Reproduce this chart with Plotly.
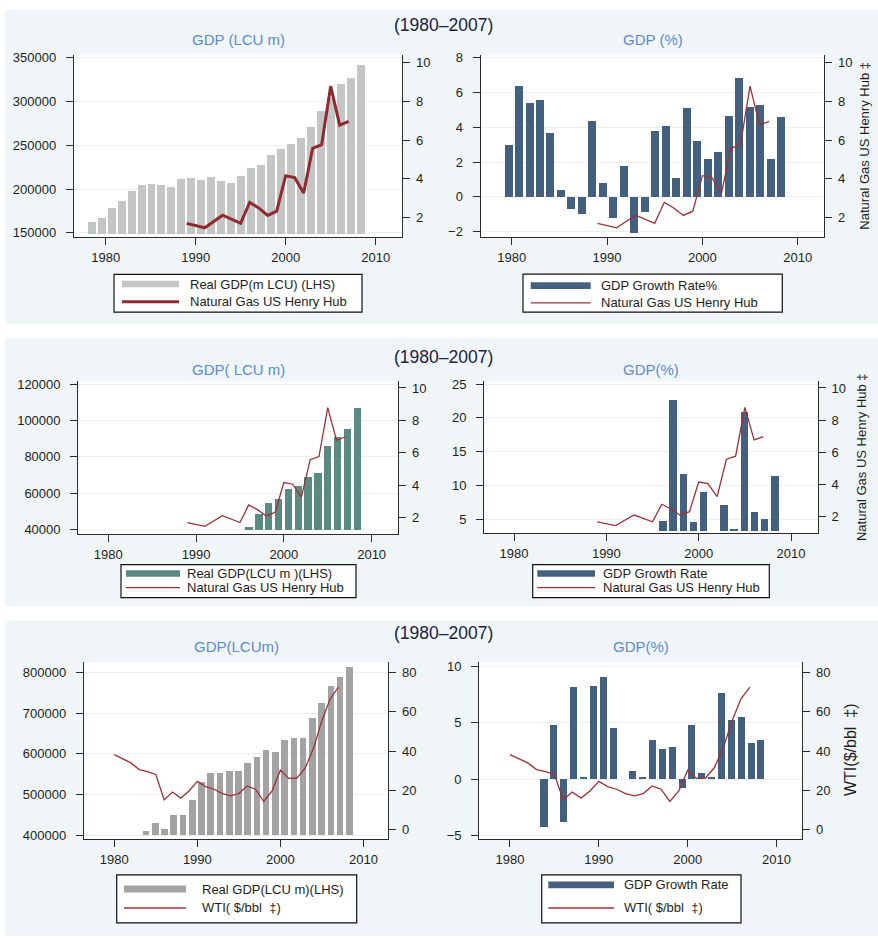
import plotly.graph_objects as go

W, H = 878, 941
FONT = "Liberation Sans, Arial, Helvetica, sans-serif"

# ---------------- data ----------------
# Natural gas, US Henry Hub ($/mmbtu)
gas_years = [1989, 1991, 1993, 1995, 1996, 1997, 1998, 1999, 2000, 2001, 2002,
             2003, 2004, 2005, 2006, 2007]
henry_hub = [1.68, 1.45, 2.10, 1.68, 2.77, 2.48, 2.09, 2.31, 4.15, 4.05, 3.25,
             5.57, 5.76, 8.79, 6.77, 6.97]

# WTI crude ($/bbl)
wti_years = list(range(1980, 2008))
wti = [38.2, 36.2, 34.0, 30.6, 29.6, 28.1, 15.2, 19.2, 16.1, 19.7, 24.6, 21.9,
       20.6, 18.4, 17.2, 18.4, 22.3, 20.6, 14.4, 19.7, 30.3, 26.1, 26.3, 31.5,
       41.5, 55.4, 66.6, 72.5]

# Country A
gdp_years_a = list(range(1981, 2009))
real_gdp_a = [162450, 167000, 178300, 187400, 198700, 205500, 206600, 204700,
              203200, 211500, 213400, 211100, 214500, 210000, 207700, 215700,
              224700, 228100, 239400, 246200, 251900, 258700, 271100, 289500,
              305000, 321000, 327800, 342500]
growth_years_a = list(range(1982, 2009))
growth_a = [3.00, 6.39, 5.40, 5.59, 3.69, 0.40, -0.68, -0.99, 4.41, 0.80,
            -1.20, 1.81, -2.07, -0.87, 3.80, 4.09, 1.12, 5.11, 3.21, 2.21,
            2.60, 4.70, 6.88, 5.19, 5.29, 2.21, 4.60]

# Country B
gdp_years_b = list(range(1997, 2009))
real_gdp_b = [41300, 48500, 54400, 56500, 62000, 63800, 68700, 70700, 85600,
              90900, 95300, 106400]
growth_b = [4.71, 22.6, 11.6, 4.46, 8.96, None, 7.10, 3.39, 20.75, 6.03, 5.0,
            11.3]

# Country C
gdp_years_c = list(range(1986, 2009))
real_gdp_c = [410500, 430700, 415400, 450100, 450100, 486500, 529300, 553500,
              553500, 558400, 558400, 577800, 592300, 610100, 604400, 634300,
              638400, 638400, 686900, 723200, 765300, 787100, 813700]
growth_c = [-4.30, 4.82, -3.86, 8.16, 0.12, 8.25, 9.04, 4.56, 0.0, 0.70, 0.18,
            3.42, 2.63, 2.81, -0.79, 4.82, 0.53, 0.18, 7.63, 5.26, 5.50, 3.16,
            3.42]

year_ticks = [1980, 1990, 2000, 2010]

# ---------------- styles ----------------
PANEL = "#f0f6f7"
AX = "#2b2b2b"
GRID = "#e9f0f1"
TXT = "#1e1e1e"
RED_THICK = "#8e2a30"
RED = "#9e3036"
NAVY = "#44607f"
GRAY_LIGHT = "#c4c5c5"
GRAY_DARK = "#a3a3a3"
TEAL = "#5a8a80"
SUB_BLUE = "#5b8ad6"
TITLE_NAVY = "#1c2244"


def fx(v):
    return v / W


def fy(v):
    return 1 - v / H


panels = [
    dict(box=(74, 50, 402.3, 234.3), main_range=[1976.48, 2012.96],
         bar_range=[1979.22, 2012.18], left_range=[145100, 353700],
         right_range=[0.97, 10.43],
         left_ticks=[150000, 200000, 250000, 300000, 350000],
         right_ticks=[2, 4, 6, 8, 10],
         bx=gdp_years_a, by=real_gdp_a, base=149400, bw=0.8, bc=GRAY_LIGHT,
         lx=gas_years, ly=henry_hub, lc=RED_THICK, lw=3.0,
         sub="GDP (LCU m)", sub_y=35,
         legend=dict(box=(114, 272, 362, 310), sw=(122, 179), rect=(278.3, 285),
                     tx=188.3, t1=281.7, t2=299.7,
                     labels=["Real GDP(m LCU) (LHS)", "Natural Gas US Henry Hub"])),
    dict(box=(480.7, 50, 824.3, 234.3), main_range=[1976.75, 2012.79],
         bar_range=[1979.37, 2012.16], left_range=[-2.32, 8.19],
         right_range=[0.97, 10.43],
         left_ticks=[-2, 0, 2, 4, 6, 8], right_ticks=[2, 4, 6, 8, 10],
         bx=growth_years_a, by=growth_a, base=0, bw=0.76, bc=NAVY,
         lx=gas_years, ly=henry_hub, lc=RED, lw=1.3,
         sub="GDP (%)", sub_y=35,
         ytitle=("Natural Gas US Henry Hub ‡", 865, 142, 13),
         legend=dict(box=(523, 271.7, 782.3, 310), sw=(530.7, 590.7),
                     rect=(280, 286.7), tx=599, t1=283.3, t2=300.7,
                     labels=["GDP Growth Rate%", "Natural Gas US Henry Hub"])),
    dict(box=(78.3, 380, 398.3, 534.3), main_range=[1976.58, 2013.04],
         bar_range=[1979.6, 2012.15], left_range=[37440, 121470],
         right_range=[0.96, 10.41],
         left_ticks=[40000, 60000, 80000, 100000, 120000],
         right_ticks=[2, 4, 6, 8, 10],
         bx=gdp_years_b, by=real_gdp_b, base=39700, bw=0.74, bc=TEAL,
         lx=gas_years, ly=henry_hub, lc=RED, lw=1.3,
         sub="GDP( LCU m)", sub_y=368,
         legend=dict(box=(121, 565, 356, 598.3), sw=(126, 180),
                     rect=(570.7, 577.3), tx=185.3, t1=574.3, t2=588.3,
                     labels=["Real GDP(LCU m )(LHS)", "Natural Gas US Henry Hub"])),
    dict(box=(484.3, 380, 817.7, 533.5), main_range=[1976.78, 2012.89],
         bar_range=[1979.36, 2012.2], left_range=[2.9, 25.4],
         right_range=[0.96, 10.41],
         left_ticks=[5, 10, 15, 20, 25], right_ticks=[2, 4, 6, 8, 10],
         bx=gdp_years_b, by=growth_b, base=3.24, bw=0.74, bc=NAVY,
         lx=gas_years, ly=henry_hub, lc=RED, lw=1.3,
         sub="GDP(%)", sub_y=368,
         ytitle=("Natural Gas US Henry Hub ‡", 861.7, 456.7, 13),
         legend=dict(box=(532.7, 565, 769.3, 598.3), sw=(537.3, 595),
                     rect=(570.7, 577.3), tx=601, t1=574.3, t2=588.3,
                     labels=["GDP Growth Rate", "Natural Gas US Henry Hub"])),
    dict(box=(84, 663.5, 388.3, 842), main_range=[1976.35, 2013.0],
         bar_range=[1979.29, 2012.22], left_range=[391000, 825000],
         right_range=[-4.67, 85.2],
         left_ticks=[400000, 500000, 600000, 700000, 800000],
         right_ticks=[0, 20, 40, 60, 80],
         bx=gdp_years_c, by=real_gdp_c, base=400500, bw=0.72, bc=GRAY_DARK,
         lx=wti_years, ly=wti, lc=RED, lw=1.3,
         sub="GDP(LCUm)", sub_y=648,
         legend=dict(box=(116.7, 878.3, 356.7, 926.7), sw=(124, 186),
                     rect=(889, 896), tx=200, t1=892.7, t2=911.7,
                     labels=["Real GDP(LCU m)(LHS)",
                             "WTI(\u00a0$/bbl\u00a0\u00a0‡)"])),
    dict(box=(479.3, 663.5, 802.3, 842), main_range=[1976.55, 2012.9],
         bar_range=[1979.41, 2012.16], left_range=[-5.32, 10.38],
         right_range=[-4.67, 85.2],
         left_ticks=[-5, 0, 5, 10], right_ticks=[0, 20, 40, 60, 80],
         bx=gdp_years_c, by=growth_c, base=0, bw=0.71, bc=NAVY,
         lx=wti_years, ly=wti, lc=RED, lw=1.3,
         sub="GDP(%)", sub_y=648,
         ytitle=("WTI($/bbl\u00a0\u00a0‡)", 850.7, 752.5, 16),
         legend=dict(box=(541.7, 878.3, 741, 926.7), sw=(548.3, 614),
                     rect=(885, 891.7), tx=621.7, t1=887.7, t2=911.7,
                     labels=["GDP Growth Rate", "WTI(\u00a0$/bbl\u00a0\u00a0‡)"])),
]

fig = go.Figure()
shapes = []
annotations = []
layout_axes = {}

# light panel backgrounds behind each pair of charts
for top, bottom in [(5, 321.7), (336.7, 606.7), (621.7, 940)]:
    shapes.append(dict(type="rect", xref="paper", yref="paper", layer="below",
                       x0=fx(5), x1=fx(W), y0=fy(bottom), y1=fy(top),
                       fillcolor=PANEL, line_width=0))

# main titles
for ty in (20.5, 355.5, 634):
    annotations.append(dict(text="(1980–2007)", xref="paper", yref="paper",
                            x=fx(443), y=fy(ty), xanchor="center", yanchor="middle",
                            showarrow=False,
                            font=dict(family=FONT, size=17.5, color=TITLE_NAVY)))


def axis_id(prefix, n):
    return prefix if n == 1 else f"{prefix}{n}"


def axis_key(prefix, n):
    return f"{prefix}axis" if n == 1 else f"{prefix}axis{n}"


tick_font = dict(family=FONT, size=13, color=TXT)

for k, p in enumerate(panels):
    nb, nl = 2 * k + 1, 2 * k + 2
    xb, xl = axis_id("x", nb), axis_id("x", nl)
    yb, yl = axis_id("y", nb), axis_id("y", nl)
    left, top, right, bottom = p["box"]

    # white plot region
    shapes.append(dict(type="rect", xref="paper", yref="paper", layer="below",
                       x0=fx(left), x1=fx(right), y0=fy(bottom), y1=fy(top),
                       fillcolor="white", line_width=0))

    layout_axes[axis_key("x", nb)] = dict(
        domain=[fx(left), fx(right)], range=p["bar_range"], anchor=yb,
        showticklabels=False, ticks="", showline=True, linecolor=AX,
        linewidth=1.3, showgrid=False, zeroline=False, fixedrange=True)
    layout_axes[axis_key("x", nl)] = dict(
        overlaying=xb, anchor=yb, side="bottom", range=p["main_range"],
        tickvals=year_ticks, ticks="outside", ticklen=7, tickwidth=1.2,
        tickcolor=AX, showline=False, showgrid=False, zeroline=False,
        tickfont=tick_font, ticklabelstandoff=1, fixedrange=True)
    layout_axes[axis_key("y", nb)] = dict(
        domain=[fy(bottom), fy(top)], anchor=xb, range=p["left_range"],
        tickvals=p["left_ticks"], tickformat="d", ticks="outside", ticklen=7,
        tickwidth=1.2, tickcolor=AX, showline=True, linecolor=AX,
        linewidth=1.3, showgrid=True, gridcolor=GRID, gridwidth=1,
        zeroline=False, tickfont=tick_font, ticklabelstandoff=7,
        fixedrange=True)
    layout_axes[axis_key("y", nl)] = dict(
        overlaying=yb, side="right", anchor=xb, range=p["right_range"],
        tickvals=p["right_ticks"], tickformat="d", ticks="outside", ticklen=7,
        tickwidth=1.2, tickcolor=AX, showline=True, linecolor=AX,
        linewidth=1.3, showgrid=False, zeroline=False, tickfont=tick_font,
        ticklabelstandoff=3, fixedrange=True)

    base = p["base"]
    heights = [None if v is None else v - base for v in p["by"]]
    fig.add_trace(go.Bar(x=p["bx"], y=heights, base=base, width=p["bw"],
                         marker=dict(color=p["bc"], line=dict(width=0)),
                         xaxis=xb, yaxis=yb, showlegend=False,
                         hoverinfo="skip"))
    fig.add_trace(go.Scatter(x=p["lx"], y=p["ly"], mode="lines",
                             line=dict(color=p["lc"], width=p["lw"]),
                             xaxis=xl, yaxis=yl, showlegend=False,
                             hoverinfo="skip"))

    # chart subtitle
    annotations.append(dict(text=p["sub"], xref="paper", yref="paper",
                            x=fx((left + right) / 2), y=fy(p["sub_y"]),
                            xanchor="center", yanchor="middle", showarrow=False,
                            font=dict(family=FONT, size=15, color=SUB_BLUE)))

    # right axis title
    if "ytitle" in p:
        t, tx, ty, fs = p["ytitle"]
        annotations.append(dict(text=t, xref="paper", yref="paper", x=fx(tx),
                                y=fy(ty), xanchor="center", yanchor="middle",
                                textangle=-90, showarrow=False,
                                font=dict(family=FONT, size=fs, color=TXT)))

    # legend box
    lg = p["legend"]
    bx0, by0, bx1, by1 = lg["box"]
    shapes.append(dict(type="rect", xref="paper", yref="paper",
                       x0=fx(bx0), x1=fx(bx1), y0=fy(by1), y1=fy(by0),
                       fillcolor="white", line=dict(color="#111111", width=1.2)))
    sx0, sx1 = lg["sw"]
    r0, r1 = lg["rect"]
    shapes.append(dict(type="rect", xref="paper", yref="paper",
                       x0=fx(sx0), x1=fx(sx1), y0=fy(r1), y1=fy(r0),
                       fillcolor=p["bc"], line_width=0))
    shapes.append(dict(type="line", xref="paper", yref="paper",
                       x0=fx(sx0), x1=fx(sx1), y0=fy(lg["t2"]), y1=fy(lg["t2"]),
                       line=dict(color=p["lc"], width=p["lw"])))
    for label, ty in zip(lg["labels"], (lg["t1"], lg["t2"])):
        annotations.append(dict(text=label, xref="paper", yref="paper",
                                x=fx(lg["tx"]), y=fy(ty), xanchor="left",
                                yanchor="middle", showarrow=False,
                                font=dict(family=FONT, size=13, color=TXT)))

fig.update_layout(
    width=W, height=H, margin=dict(l=0, r=0, t=0, b=0, pad=0),
    paper_bgcolor="white", plot_bgcolor="white", showlegend=False,
    font=dict(family=FONT, size=13, color=TXT),
    shapes=shapes, annotations=annotations, bargap=0,
    **layout_axes)

fig.write_html("out.html", config={"displayModeBar": False})
